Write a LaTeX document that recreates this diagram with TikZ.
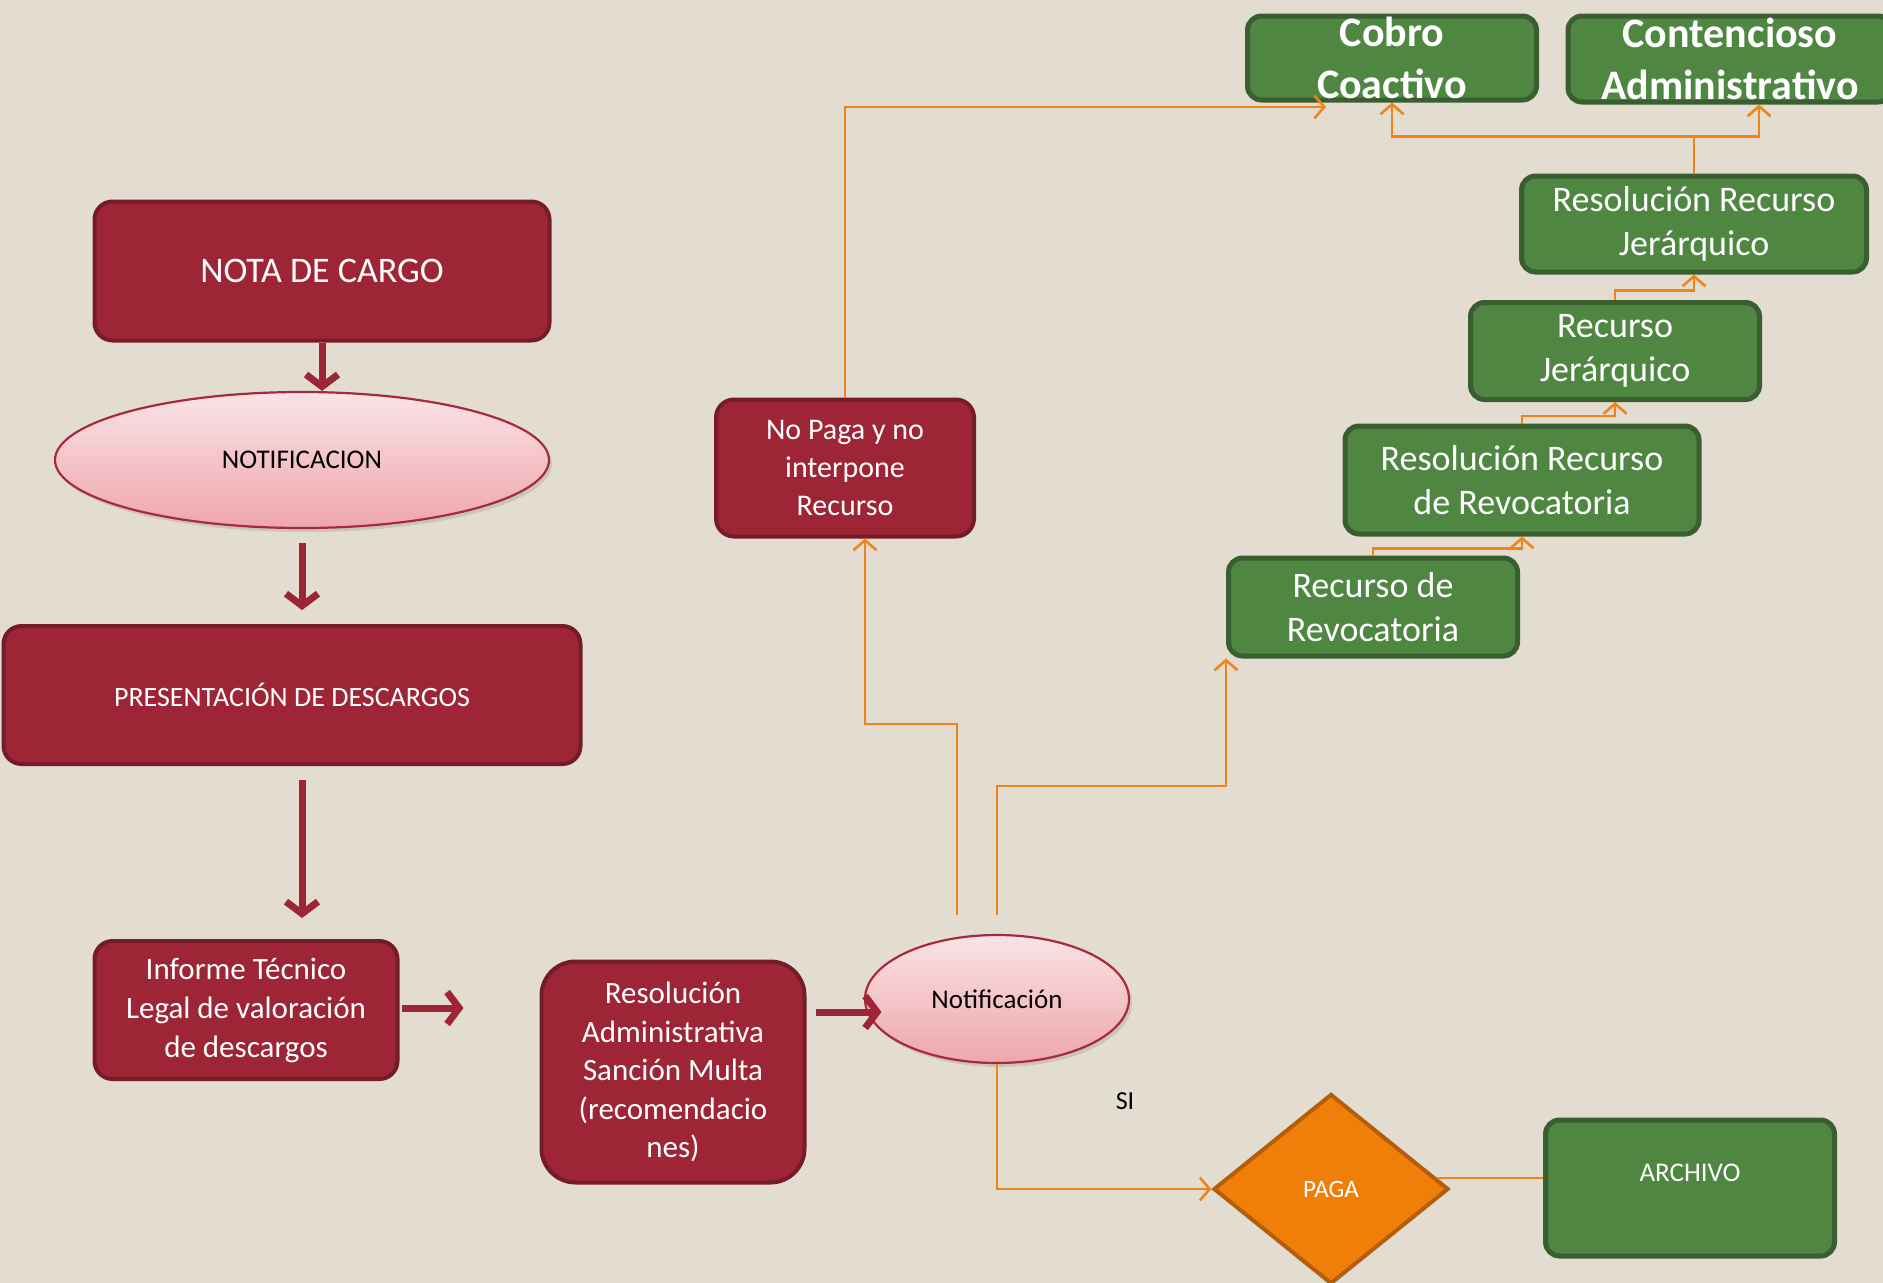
\documentclass[tikz,border=0pt]{standalone}
\usepackage{fontspec}
\setmainfont{Carlito}
\usetikzlibrary{shapes.geometric,arrows.meta,shadows}

\definecolor{fondo}{HTML}{E3DDD1}
\definecolor{rojo}{HTML}{9E2536}
\definecolor{rojoborde}{HTML}{761C28}
\definecolor{rosaarriba}{HTML}{FAE3E6}
\definecolor{rosaabajo}{HTML}{EEA6AC}
\definecolor{rosaborde}{HTML}{A8293B}
\definecolor{verde}{HTML}{4F8642}
\definecolor{verdeborde}{HTML}{3A5E30}
\definecolor{naranja}{HTML}{F07F09}
\definecolor{naranjaborde}{HTML}{B35E0A}
\definecolor{linea}{HTML}{F0841A}

\tikzset{
    rbox/.style={draw=rojoborde, line width=4pt, fill=rojo, rounded corners=18pt, text=white, align=center, inner sep=4pt},
    gbox/.style={draw=verdeborde, line width=5pt, fill=verde, rounded corners=14pt, text=white, align=center, inner sep=4pt, font=\fontsize{36}{44}\selectfont},
    oval/.style={ellipse, draw=rosaborde, line width=2.2pt, inner sep=0pt, top color=rosaarriba, bottom color=rosaabajo, drop shadow={opacity=.25, shadow xshift=3pt, shadow yshift=-4pt}},
    rarrow/.style={draw=rojo, line width=7pt, -{Straight Barb[length=12pt,width=32pt]}},
    orline/.style={draw=linea, line width=2.6pt},
    orarrow/.style={orline, -{Straight Barb[length=10pt,width=23pt]}},
}

\begin{document}
\begin{tikzpicture}[x=1pt, y=-1pt]
    \fill[fondo] (0,0) rectangle (1883,1283);
    \useasboundingbox (0,0) rectangle (1883,1283);

    % columna izquierda
    \node[rbox, minimum width=455pt, minimum height=139pt, font=\fontsize{36}{43}\selectfont] (nota) at (322,271) {NOTA DE CARGO};
    \node[oval, minimum width=494pt, minimum height=136pt, font=\fontsize{27}{32}\selectfont] (notifi) at (302,460) {NOTIFICACION};
    \node[rbox, minimum width=577pt, minimum height=138pt, font=\fontsize{28}{34}\selectfont] (present) at (292,695) {PRESENTACIÓN DE DESCARGOS};
    \node[rbox, minimum width=303pt, minimum height=138pt, font=\fontsize{31}{39}\selectfont] (informe) at (246,1010) {Informe Técnico\\Legal de valoración\\de descargos};

    \draw[rarrow] (nota.south) -- (nota.south |- notifi.north);
    \draw[rarrow] ([yshift=-14pt]notifi.south) -- ++(0,67);
    \draw[rarrow] ([xshift=10pt,yshift=-14pt]present.south) -- ++(0,138);
    \draw[rarrow] ([xshift=2pt,yshift=2pt]informe.east) -- ++(62,0);

    % centro
    \node[rbox, rounded corners=34pt, minimum width=263pt, minimum height=221pt, font=\fontsize{31}{38.5}\selectfont] (resadm) at (673,1072) {Resolución\\Administrativa\\Sanción Multa\\(recomendacio\\nes)};
    \node[oval, minimum width=264pt, minimum height=128pt, font=\fontsize{27}{32}\selectfont] (notif) at (997,999) {Notificación};
    \node[rbox, minimum width=258pt, minimum height=137pt, font=\fontsize{30}{38.4}\selectfont] (nopaga) at (845,468) {No Paga y no\\interpone\\Recurso};

    \draw[rarrow] ([xshift=9pt,yshift=60pt]resadm.east) -- ++(66,0);

    \node[diamond, draw=naranjaborde, line width=4pt, fill=naranja, inner sep=0pt, minimum width=235pt, minimum height=190pt, text=white, font=\fontsize{25}{30}\selectfont] (paga) at (1331,1189) {PAGA};
    \node[font=\fontsize{26}{30}\selectfont] (si) at (1125,1101) {SI};
    \node[gbox, minimum width=289pt, minimum height=136pt, font=\fontsize{27}{32}\selectfont, text height=20pt, text depth=33pt] (archivo) at (1690,1188) {ARCHIVO};

    % recursos
    \node[gbox, minimum width=289pt, minimum height=98pt] (rrev) at (1373,607) {Recurso de\\Revocatoria};
    \node[gbox, minimum width=354pt, minimum height=108pt] (resrev) at (1522,480) {Resolución Recurso\\de Revocatoria};
    \node[gbox, minimum width=289pt, minimum height=97pt] (recjer) at (1615,351) {Recurso\\Jerárquico};
    \node[gbox, minimum width=345pt, minimum height=96pt] (resjer) at (1694,224) {Resolución Recurso\\Jerárquico};
    \node[gbox, inner sep=0pt, minimum width=289pt, minimum height=84pt, font=\bfseries\fontsize{42}{52}\selectfont] (cobro) at (1392,58) {Cobro\\Coactivo};
    \node[gbox, inner sep=0pt, minimum width=324pt, minimum height=86pt, font=\bfseries\fontsize{42}{52}\selectfont] (conten) at (1730,59) {Contencioso\\Administrativo};
    \coordinate (cobtip) at (1326,107);

    \draw[orarrow] ([xshift=-40pt,yshift=19pt]notif.north) -- ++(0,-191) -| ([xshift=20pt]nopaga.south);
    \draw[orarrow] ([yshift=19pt]notif.north) -- ++(0,-129) -| (rrev.south west);
    \draw[orarrow] (notif.south) |- (paga.west);
    \draw[orline] (paga.6) -- (paga.6 -| archivo.west);
    \draw[orarrow] (nopaga.north) |- (cobtip);

    \draw[orarrow] (rrev.north) |- ([yshift=-12pt]resrev.south) -- (resrev.south);
    \draw[orarrow] (resrev.north) |- ([yshift=-14pt]recjer.south) -- (recjer.south);
    \draw[orarrow] (recjer.north) |- ([yshift=-16pt]resjer.south) -- (resjer.south);
    \draw[orline] (resjer.north) -- ++(0,-37) coordinate (split);
    \draw[orarrow] (split) -| (cobro.south);
    \draw[orarrow] (split) -| ([xshift=29pt]conten.south);
\end{tikzpicture}
\end{document}
